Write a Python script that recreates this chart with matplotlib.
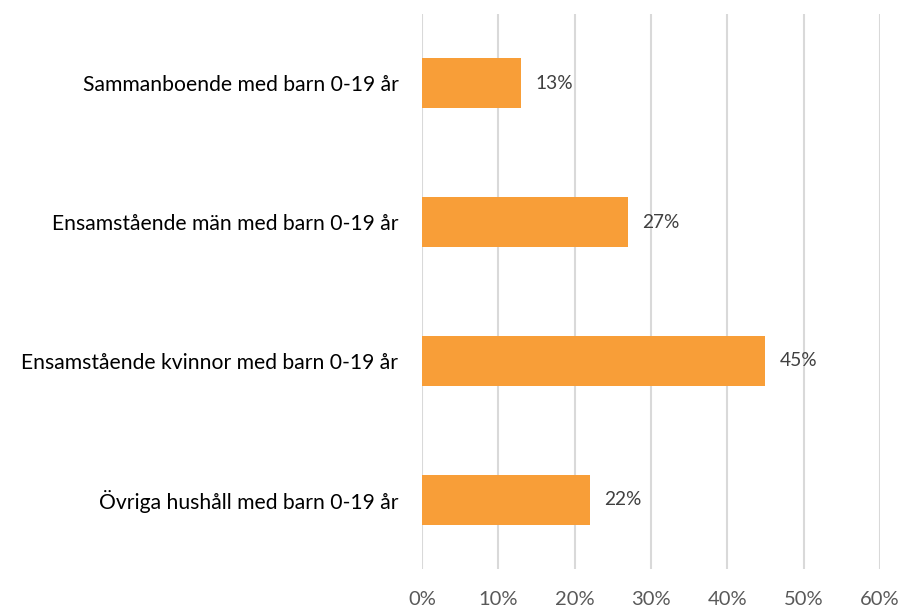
import matplotlib
matplotlib.use("Agg")
from matplotlib import pyplot as plt

categories = [
    "Sammanboende med barn 0-19 år",
    "Ensamstående män med barn 0-19 år",
    "Ensamstående kvinnor med barn 0-19 år",
    "Övriga hushåll med barn 0-19 år",
]
shares = [13, 27, 45, 22]
x_ticks = [0, 10, 20, 30, 40, 50, 60]

plt.rcParams["font.family"] = ["Lato", "DejaVu Sans"]

fig = plt.figure(figsize=(9.03, 6.10), dpi=100)
ax = fig.add_axes([422 / 903, 1 - 569 / 610, (880 - 422) / 903, (569 - 14) / 610])

y = list(range(len(categories)))
ax.barh(y, shares, height=0.36, color="#F89E38", zorder=3)

for yi, v in zip(y, shares):
    ax.annotate(f"{v}%", (v, yi), xytext=(10, 0), textcoords="offset points",
                va="center", ha="left", fontsize=13.8, color="#404040")

ax.set_xlim(0, 60)
ax.set_ylim(len(categories) - 0.5, -0.5)
ax.set_xticks(x_ticks)
ax.set_xticklabels([f"{t}%" for t in x_ticks], fontsize=14.5, color="#595959")
ax.set_yticks(y)
ax.set_yticklabels(categories, fontsize=15.2, color="#000000")
ax.tick_params(axis="both", length=0)
ax.tick_params(axis="x", pad=16)
ax.tick_params(axis="y", pad=17)
ax.grid(axis="x", color="#D9D9D9", linewidth=1.5, zorder=0)
for s in ax.spines.values():
    s.set_visible(False)

fig.savefig("out.png", dpi=100)
